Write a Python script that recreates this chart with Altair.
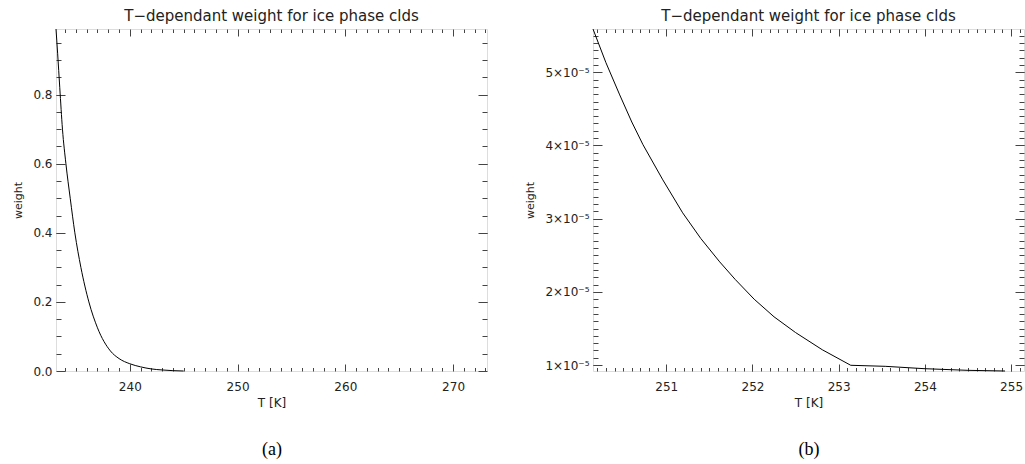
import altair as alt
import pandas as pd

# ---------------- data ----------------
# panel (a)
t_a = [233.15, 233.3, 233.5, 233.75, 234.07, 234.47, 234.9, 235.46, 236.2,
       237.0, 238.2, 239.0, 240.0, 241.0, 242.0, 243.0, 244.0, 245.0]
w_a = [0.99, 0.92, 0.82, 0.70, 0.60, 0.50, 0.40, 0.30, 0.20,
       0.125, 0.058, 0.036, 0.021, 0.012, 0.006, 0.003, 0.001, 0.0]

# panel (b)
t_b = [250.15, 250.3, 250.46, 250.6, 250.73, 250.96, 251.19, 251.4, 251.62, 251.8,
       252.02, 252.25, 252.5, 252.81, 253.14, 253.54, 253.99, 254.5, 254.93]
w_b = [5.59e-5, 5.13e-5, 4.69e-5, 4.32e-5, 4.01e-5, 3.53e-5, 3.08e-5, 2.73e-5,
       2.41e-5, 2.17e-5, 1.90e-5, 1.66e-5, 1.445e-5, 1.21e-5, 0.998e-5,
       0.984e-5, 0.952e-5, 0.929e-5, 0.92e-5]

# axis ticks
xa_major = [240, 250, 260, 270]
xa_minor = [v for v in range(234, 274) if v not in xa_major]
ya_major = [0.0, 0.2, 0.4, 0.6, 0.8]
ya_minor = [round(0.05 * i, 2) for i in range(1, 20)]

xb_major = [251, 252, 253, 254, 255]
xb_minor = [round(250.2 + 0.1 * i, 1) for i in range(50)]
yb_major = [1e-5, 2e-5, 3e-5, 4e-5, 5e-5]
yb_minor = [round(i * 1e-6, 7) for i in range(10, 56)]

title_text = "T\u2212dependant weight for ice phase clds"

FONT = "DejaVu Sans"
TXT = "#222222"
LINE = "#444444"
W, H = 431, 342


def tick_axis(orient, vals, size, **kw):
    return alt.Axis(orient=orient, values=vals, labels=False, domain=False,
                    grid=False, ticks=True, tickColor=LINE, tickWidth=1,
                    tickSize=alt.ExprRef(expr=str(-size)), **kw)


def panel(t, w, xdom, ydom, xmaj, xmin, ymaj, ymin, ylab, caption, interp):
    df = pd.DataFrame({"T": t, "w": w})
    xs = alt.Scale(domain=xdom, nice=False, zero=False)
    ys = alt.Scale(domain=ydom, nice=False, zero=False)
    base = alt.Chart(df)

    main = base.mark_line(color="black", strokeWidth=1, interpolate=interp).encode(
        x=alt.X("T:Q", scale=xs, axis=alt.Axis(
            values=xmaj, format="d", ticks=False, tickSize=0, domain=False, grid=False,
            labelPadding=10, labelFont=FONT, labelFontSize=12, labelColor=TXT,
            title="T [K]", titleFont=FONT, titleFontSize=12, titleFontWeight="normal",
            titleColor=TXT, titlePadding=5)),
        y=alt.Y("w:Q", scale=ys, axis=alt.Axis(
            values=ymaj, ticks=False, tickSize=0, domain=False, grid=False,
            labelPadding=4, labelFont=FONT, labelFontSize=12, labelColor=TXT,
            labelExpr=ylab,
            title="weight", titleFont=FONT, titleFontSize=11, titleFontWeight="normal",
            titleColor=TXT, titlePadding=9)),
    )

    inv = base.mark_line(opacity=0)
    l_bmaj = inv.encode(
        x=alt.X("T:Q", scale=xs, axis=tick_axis("bottom", xmaj, 7, title=None)),
        y=alt.Y("w:Q", scale=ys, axis=tick_axis("left", ymaj, 9, title=None)))
    l_bmin = inv.encode(
        x=alt.X("T:Q", scale=xs, axis=tick_axis(
            "bottom", xmin, 3.5, title=caption, titleFont="Liberation Serif",
            titleFontSize=18, titleFontWeight="normal", titleColor="black",
            titlePadding=69)),
        y=alt.Y("w:Q", scale=ys, axis=tick_axis("left", ymin, 5, title=None)))
    l_tmaj = inv.encode(
        x=alt.X("T:Q", scale=xs, axis=tick_axis("top", xmaj, 7, title=None)),
        y=alt.Y("w:Q", scale=ys, axis=tick_axis("right", ymaj, 9, title=None)))
    l_tmin = inv.encode(
        x=alt.X("T:Q", scale=xs, axis=tick_axis("top", xmin, 3.5, title=None)),
        y=alt.Y("w:Q", scale=ys, axis=tick_axis("right", ymin, 5, title=None)))

    return alt.layer(main, l_bmaj, l_bmin, l_tmaj, l_tmin).resolve_axis(
        x="independent", y="independent"
    ).properties(
        width=W, height=H,
        title=alt.TitleParams(title_text, font=FONT, fontSize=15, fontWeight="normal",
                              color=TXT, offset=3, anchor="middle"),
    )


left = panel(t_a, w_a, [233.15, 273.15], [0.0, 0.99], xa_major, xa_minor,
             ya_major, ya_minor, "format(datum.value, '.1f')", "(a)", "monotone")
right = panel(t_b, w_b, [250.15, 255.15], [0.92e-5, 5.59e-5], xb_major, xb_minor,
              yb_major, yb_minor, "round(datum.value * 1e5) + '\u00d710\u207b\u2075'", "(b)",
              "linear")

chart = alt.hconcat(left, right, spacing=106, bounds="flush").properties(
    padding={"left": 12, "top": 8, "right": 0, "bottom": 0}
).configure_view(stroke=LINE, strokeWidth=1).configure(background="white")

chart.save("out.html", embed_options={"renderer": "svg", "actions": False})
